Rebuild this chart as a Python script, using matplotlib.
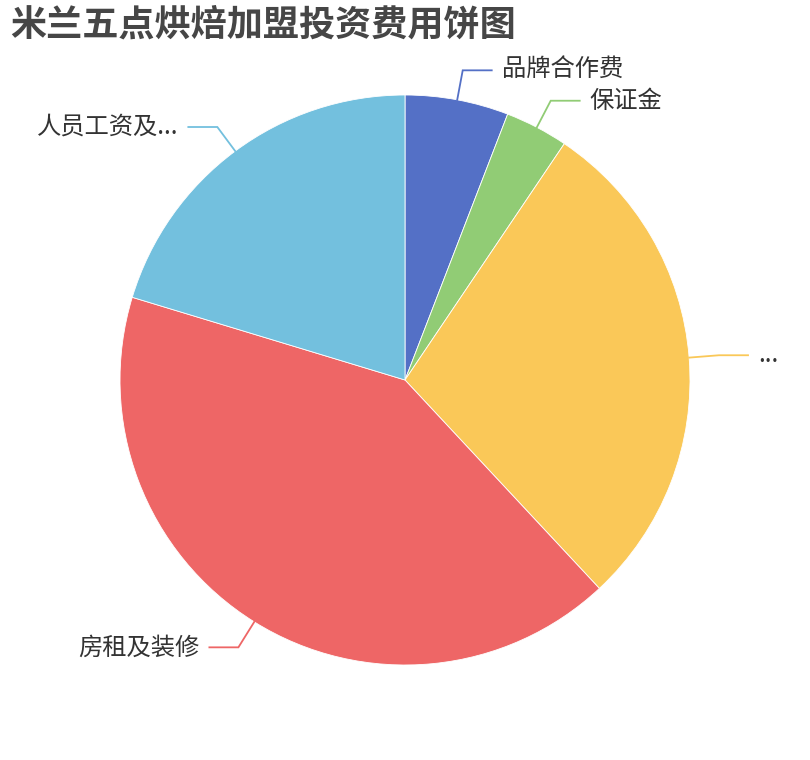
import numpy as np
import matplotlib
matplotlib.use("Agg")
import matplotlib.pyplot as plt

plt.rcParams['font.family'] = ['Noto Sans CJK SC', 'DejaVu Sans']

# data
names = ["品牌合作费", "保证金", "...", "房租及装修", "人员工资及..."]
values = [4.1, 2.5, 20.0, 29.1, 14.2]
colors = ["#5470c6", "#91cc75", "#fac858", "#ee6666", "#73c0de"]
title = "米兰五点烘焙加盟投资费用饼图"

W, H = 810, 760
fig = plt.figure(figsize=(W / 100, H / 100), dpi=100)
ax = fig.add_axes([0, 0, 1, 1])
ax.set_xlim(0, W)
ax.set_ylim(0, H)
ax.set_aspect('equal')
ax.axis('off')

cx, cy, r = 405, H - 380, 285
wedges, _ = ax.pie(values, colors=colors, center=(cx, cy), radius=r,
                   startangle=90, counterclock=False,
                   wedgeprops=dict(edgecolor='white', linewidth=0.6))
ax.set_xlim(0, W)
ax.set_ylim(0, H)

# leader lines + labels (radial segment then horizontal)
for w, name, c in zip(wedges, names, colors):
    mid = np.deg2rad((w.theta1 + w.theta2) / 2)
    dx, dy = np.cos(mid), np.sin(mid)
    x0, y0 = cx + r * dx, cy + r * dy
    x1, y1 = cx + (r + 30) * dx, cy + (r + 30) * dy
    side = 1 if dx >= 0 else -1
    x2 = x1 + side * 29
    ax.plot([x0, x1, x2], [y0, y1, y1], color=c, lw=1.3,
            solid_joinstyle='miter', zorder=3)
    ax.text(x2 + side * 10, y1, name, ha='left' if side > 0 else 'right',
            va='center', fontsize=17.5, color='#333333')

fig.text(10 / W, 1 - 25 / H, title, ha='left', va='center',
         fontsize=26, fontweight='bold', color='#464646')

fig.savefig("out.png", dpi=100)
